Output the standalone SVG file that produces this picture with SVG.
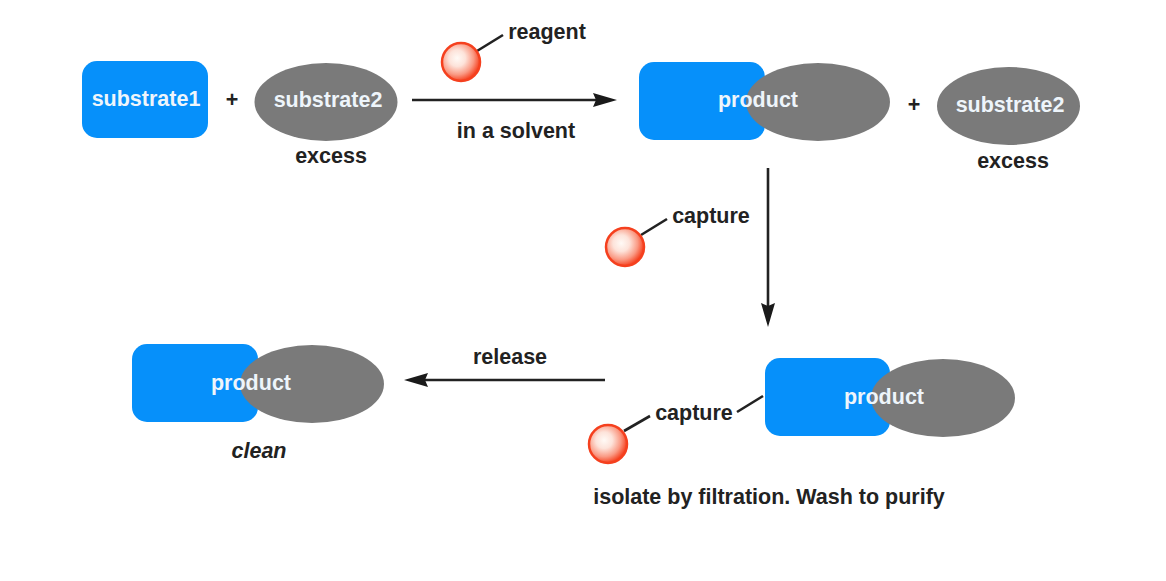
<svg xmlns="http://www.w3.org/2000/svg" width="1166" height="581" viewBox="0 0 1166 581">
<style>
text{font-family:"Liberation Sans",Arial,sans-serif;font-weight:bold;font-size:21.500px;fill:#222;text-anchor:middle}
.w{fill:#eef5fb}
.b{fill:#0690fa}
.g{fill:#7a7a7a}
.ball{fill:url(#ballGrad);stroke:#f5401e;stroke-width:2.5}
.lead{stroke:#222;stroke-width:2.6;fill:none}
.arr{stroke:#222;stroke-width:2.6;fill:none}
</style>
<defs>
<radialGradient id="ballGrad" cx="0.4" cy="0.4" r="0.62">
<stop offset="0" stop-color="#fffaf6"/><stop offset="0.35" stop-color="#fde3da"/><stop offset="0.7" stop-color="#fa9a84"/><stop offset="1" stop-color="#f53c1a"/>
</radialGradient>
<marker id="ah" markerUnits="userSpaceOnUse" markerWidth="26" markerHeight="16" refX="4" refY="7" orient="auto">
<path d="M0 0L24 7L0 14L3 7Z" fill="#1a1a1a"/>
</marker>
</defs>
<rect width="1166" height="581" fill="#fff"/>
<g id="connectors">
<path class="arr" d="M412 100H597" marker-end="url(#ah)"/>
<path class="arr" d="M768 168V307" marker-end="url(#ah)"/>
<path class="arr" d="M605 380H424" marker-end="url(#ah)"/>
<path class="lead" d="M477 51L503 35"/>
<path class="lead" d="M641 235L667 219"/>
<path class="lead" d="M624 431L650 416"/>
<path class="lead" d="M737 412L763 396"/>
</g>
<g id="substrate1"><rect class="b" x="82" y="61" width="126" height="77" rx="15"/><text class="w" x="146" y="106">substrate1</text></g>
<g id="plus1"><text x="232" y="107">+</text></g>
<g id="substrate2a"><ellipse class="g" cx="326" cy="102" rx="71.500" ry="39"/><text class="w" x="328" y="107">substrate2</text></g>
<g id="excess1"><text x="331" y="163">excess</text></g>
<g id="reagent-ball"><circle class="ball" cx="461" cy="62" r="19"/><text x="547" y="39">reagent</text></g>
<g id="solvent"><text x="516" y="138">in a solvent</text></g>
<g id="product1"><rect class="b" x="639" y="62" width="126" height="78" rx="15"/><ellipse class="g" cx="818" cy="102" rx="72" ry="39"/><text class="w" x="758" y="107">product</text></g>
<g id="plus2"><text x="914" y="112">+</text></g>
<g id="substrate2b"><ellipse class="g" cx="1008.500" cy="106" rx="71.500" ry="39"/><text class="w" x="1010" y="112">substrate2</text></g>
<g id="excess2"><text x="1013" y="168">excess</text></g>
<g id="capture1"><circle class="ball" cx="625" cy="247" r="19"/><text x="711" y="223">capture</text></g>
<g id="product2"><rect class="b" x="765" y="358" width="125" height="78" rx="15"/><ellipse class="g" cx="943" cy="398" rx="72" ry="39"/><text class="w" x="884" y="404">product</text></g>
<g id="capture2"><circle class="ball" cx="608" cy="444" r="19"/><text x="694" y="420">capture</text></g>
<g id="filtration"><text x="769" y="504">isolate by filtration. Wash to purify</text></g>
<g id="release"><text x="510" y="364">release</text></g>
<g id="product3"><rect class="b" x="132" y="344" width="126" height="78" rx="15"/><ellipse class="g" cx="312" cy="384" rx="72" ry="39"/><text class="w" x="251" y="390">product</text></g>
<g id="clean"><text x="259" y="458" font-style="italic">clean</text></g>
</svg>
